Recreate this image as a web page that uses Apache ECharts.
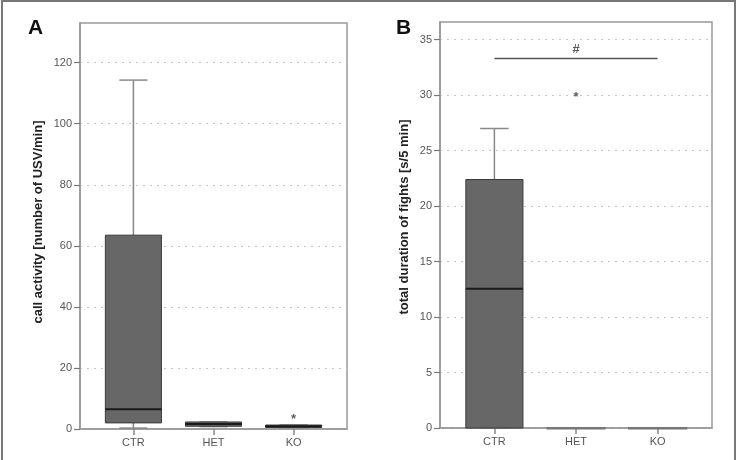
<!DOCTYPE html>
<html>
<head>
<meta charset="utf-8">
<script src="https://cdn.jsdelivr.net/npm/echarts@6/dist/echarts.min.js"></script>
<style>
  html, body { margin: 0; padding: 0; background: #fff; }
  #chart { width: 744px; height: 460px; }
</style>
</head>
<body>
<div id="chart"></div>
<script>
// groups on the x axis
const groups = ['CTR', 'HET', 'KO'];

// panel A: call activity, [min, Q1, median, Q3, max]
const boxA = [
  [0.3, 2.0, 6.5, 63.5, 114.3],
  [0.8, 0.9, 1.6, 2.3, 2.3],
  [0.4, 0.5, 0.9, 1.3, 1.3]
];
const outliersA = [[2, 3.3, '*']];
const yTicksA = [0, 20, 40, 60, 80, 100, 120];

// panel B: total duration of fights
const boxB = [
  [0, 0, 12.55, 22.4, 27.0],
  [0, 0, 0, 0, 0],
  [0, 0, 0, 0, 0]
];
const marksB = [[1, 29.8, '*'], [1, 34.1, '#']];
const bracketB = [[0, 2, 33.3]];
const yTicksB = [0, 5, 10, 15, 20, 25, 30, 35];

const chart = echarts.init(document.getElementById('chart'));

const tickFont = { color: '#555', fontSize: 11, fontFamily: 'Liberation Sans, Arial, sans-serif' };

function makeX(idx) {
  return {
    type: 'value', gridIndex: idx, min: -2 / 3, max: 8 / 3,
    axisLine: { show: true, onZero: false, lineStyle: { color: '#999', width: 1.5 } },
    axisTick: { show: true, customValues: [0, 1, 2], length: 6, lineStyle: { color: '#888', width: 1.5 } },
    axisLabel: Object.assign({ customValues: [0, 1, 2], margin: 8, formatter: v => groups[Math.round(v)] }, tickFont),
    splitLine: { show: false }
  };
}

function makeY(idx, max, ticks) {
  return {
    type: 'value', gridIndex: idx, min: 0, max: max,
    axisLine: { show: true, onZero: false, lineStyle: { color: '#999', width: 1.5 } },
    axisTick: { show: true, customValues: ticks, length: 6, lineStyle: { color: '#777', width: 1.2 } },
    axisLabel: Object.assign({ customValues: ticks, margin: 8 }, tickFont),
    splitLine: { show: true, lineStyle: { color: '#c4c4c4', type: [2, 5], width: 1.2 } }
  };
}

// draw one box with whisker and cap (SPSS style)
function renderBox(params, api) {
  const x = api.value(0);
  const lo = api.value(1), q1 = api.value(2), med = api.value(3), q3 = api.value(4), hi = api.value(5);
  const w = api.size([0.7, 0])[0];
  const capW = api.size([0.35, 0])[0];
  const pQ3 = api.coord([x, q3]);
  const pQ1 = api.coord([x, q1]);
  const pMed = api.coord([x, med]);
  const pHi = api.coord([x, hi]);
  const pLo = api.coord([x, lo]);
  const grey = { stroke: '#888', lineWidth: 1.5 };
  return {
    type: 'group',
    children: [
      { type: 'line', shape: { x1: pHi[0], y1: pHi[1], x2: pQ3[0], y2: pQ3[1] }, style: grey },
      { type: 'line', shape: { x1: pHi[0] - capW / 2, y1: pHi[1], x2: pHi[0] + capW / 2, y2: pHi[1] }, style: grey },
      { type: 'line', shape: { x1: pLo[0], y1: pLo[1], x2: pQ1[0], y2: pQ1[1] }, style: grey },
      { type: 'line', shape: { x1: pLo[0] - capW / 2, y1: pLo[1], x2: pLo[0] + capW / 2, y2: pLo[1] }, style: grey },
      { type: 'rect', shape: { x: pQ3[0] - w / 2, y: pQ3[1], width: w, height: Math.max(pQ1[1] - pQ3[1], 0.5) },
        style: { fill: '#676767', stroke: q3 === q1 ? '#777' : '#3a3a3a', lineWidth: q3 === q1 ? 2 : 1 } },
      { type: 'line', shape: { x1: pMed[0] - w / 2, y1: pMed[1], x2: pMed[0] + w / 2, y2: pMed[1] },
        style: { stroke: q3 === q1 ? '#777' : '#1a1a1a', lineWidth: 2 } }
    ]
  };
}

function renderBracket(params, api) {
  const a = api.coord([api.value(0), api.value(2)]);
  const b = api.coord([api.value(1), api.value(2)]);
  return { type: 'line', shape: { x1: a[0], y1: a[1], x2: b[0], y2: b[1] }, style: { stroke: '#555', lineWidth: 1.5 } };
}

function boxData(rows) {
  return rows.map((r, i) => [i].concat(r));
}

function textMarks(idx, rows) {
  return {
    type: 'scatter', xAxisIndex: idx, yAxisIndex: idx, symbolSize: 0,
    data: rows.map(r => ({ value: [r[0], r[1]], label: { formatter: r[2] } })),
    label: { show: true, position: 'inside', color: '#333', fontSize: 13, fontWeight: 'bold', fontFamily: 'Liberation Sans, Arial, sans-serif' },
    silent: true
  };
}

const titleFont = 'bold 13px "Liberation Sans", Arial, sans-serif';

chart.setOption({
  animation: false,
  grid: [
    { left: 80, top: 23, width: 267, height: 406, show: true, borderColor: '#999', borderWidth: 1.5, backgroundColor: 'transparent' },
    { left: 440, top: 22, width: 272, height: 406, show: true, borderColor: '#999', borderWidth: 1.5, backgroundColor: 'transparent' }
  ],
  xAxis: [makeX(0), makeX(1)],
  yAxis: [makeY(0, 133, yTicksA), makeY(1, 36.6, yTicksB)],
  graphic: [
    { type: 'rect', shape: { x: 2, y: 1, width: 733, height: 480 }, style: { fill: 'none', stroke: '#777', lineWidth: 2 }, z: -10 },
    { type: 'text', left: 28, top: 18, style: { text: 'A', font: 'bold 21px "Liberation Sans", Arial, sans-serif', fill: '#111' } },
    { type: 'text', left: 396, top: 18, style: { text: 'B', font: 'bold 21px "Liberation Sans", Arial, sans-serif', fill: '#111' } },
    { type: 'text', x: 38, y: 222, rotation: Math.PI / 2,
      style: { text: 'call activity [number of USV/min]', font: titleFont, fill: '#222', align: 'center', verticalAlign: 'middle' } },
    { type: 'text', x: 404, y: 217, rotation: Math.PI / 2,
      style: { text: 'total duration of fights [s/5 min]', font: titleFont, fill: '#222', align: 'center', verticalAlign: 'middle' } }
  ],
  series: [
    { type: 'custom', xAxisIndex: 0, yAxisIndex: 0, renderItem: renderBox, data: boxData(boxA), encode: { x: 0, y: [1, 2, 3, 4, 5] } },
    { type: 'custom', xAxisIndex: 1, yAxisIndex: 1, renderItem: renderBox, data: boxData(boxB), encode: { x: 0, y: [1, 2, 3, 4, 5] } },
    { type: 'custom', xAxisIndex: 1, yAxisIndex: 1, renderItem: renderBracket, data: bracketB, encode: { x: [0, 1], y: 2 } },
    textMarks(0, outliersA),
    textMarks(1, marksB)
  ]
});
</script>
</body>
</html>
